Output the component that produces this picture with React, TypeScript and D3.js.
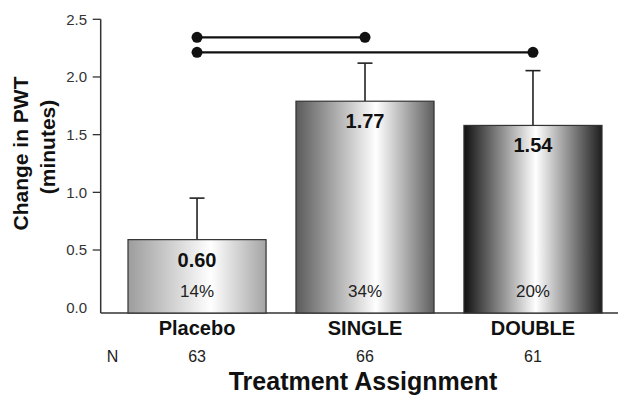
import React from "react";
import * as d3 from "d3";

const categories = ["Placebo", "SINGLE", "DOUBLE"];
const barValues = [0.59, 1.79, 1.58];
const valueLabels = ["0.60", "1.77", "1.54"];
const errorUpper = [0.95, 2.12, 2.055];
const percentLabels = ["14%", "34%", "20%"];
const nValues = ["63", "66", "61"];
const yTicks = [0.5, 1.0, 1.5, 2.0, 2.5];
const yTickLabels = ["0.0", "0.5", "1.0", "1.5", "2.0", "2.5"];
const sigPairs: [number, number, number][] = [
  [0, 1, 2.344],
  [0, 2, 2.214],
];
const gradients = [
  { left: "#9c9c9c", mid: "#ffffff", right: "#a4a4a4", midPos: "60%" },
  { left: "#5a5a5a", mid: "#ffffff", right: "#5e5e5e", midPos: "58%" },
  { left: "#111111", mid: "#ffffff", right: "#1e1e1e", midPos: "52%" },
];

const W = 618;
const H = 396;
const FONT = "Arial, 'Liberation Sans', Helvetica, sans-serif";

export default function App() {
  const y = d3.scaleLinear().domain([0, 2.5]).range([307.7, 19.3]);
  const x = d3.scaleBand<string>().domain(categories).range([128, 602]).paddingInner(0.178).paddingOuter(0);
  const axisX = 100.7;
  const baseY = 313;
  const bw = x.bandwidth();
  const cx = (c: string) => (x(c) as number) + bw / 2;

  return (
    <svg width={W} height={H} style={{ position: "absolute", left: 0, top: 0, background: "#fff" }} fontFamily={FONT}>
      <defs>
        {gradients.map((g, i) => (
          <linearGradient key={i} id={`grad${i}`} x1="0" x2="1" y1="0" y2="0">
            <stop offset="0%" stopColor={g.left} />
            <stop offset={g.midPos} stopColor={g.mid} />
            <stop offset="100%" stopColor={g.right} />
          </linearGradient>
        ))}
      </defs>
      <rect x={0} y={0} width={W} height={H} fill="#fff" />

      {/* axes */}
      <line x1={axisX} x2={axisX} y1={y(2.5)} y2={baseY} stroke="#333" strokeWidth={1.5} />
      <line x1={axisX} x2={W} y1={baseY} y2={baseY} stroke="#333" strokeWidth={1.5} />
      {yTicks.map((t) => (
        <line key={t} x1={axisX - 8} x2={axisX} y1={y(t)} y2={y(t)} stroke="#333" strokeWidth={1.3} />
      ))}
      {yTickLabels.map((l, i) => (
        <text key={l} x={87} y={y(i * 0.5)} dy="0.36em" textAnchor="end" fontSize={15} fill="#333">
          {l}
        </text>
      ))}

      {/* y label */}
      <text transform={`translate(28,153.5) rotate(-90)`} textAnchor="middle" fontSize={21} fontWeight="bold" fill="#111">
        Change in PWT
      </text>
      <text transform={`translate(55,147) rotate(-90)`} textAnchor="middle" fontSize={21} fontWeight="bold" fill="#111">
        (minutes)
      </text>

      {/* error bars */}
      {categories.map((c, i) => (
        <g key={`e${c}`} stroke="#222" strokeWidth={1.6}>
          <line x1={cx(c)} x2={cx(c)} y1={y(barValues[i])} y2={y(errorUpper[i])} />
          <line x1={cx(c) - 7.5} x2={cx(c) + 7.5} y1={y(errorUpper[i])} y2={y(errorUpper[i])} />
        </g>
      ))}

      {/* bars */}
      {categories.map((c, i) => (
        <rect
          key={c}
          x={x(c)}
          y={y(barValues[i])}
          width={bw}
          height={baseY - y(barValues[i])}
          fill={`url(#grad${i})`}
          stroke="#333"
          strokeWidth={1.2}
        />
      ))}

      {/* value labels */}
      {categories.map((c, i) => (
        <text key={`v${c}`} x={cx(c)} y={y(barValues[i]) + 27} textAnchor="middle" fontSize={20} fontWeight="bold" fill="#111">
          {valueLabels[i]}
        </text>
      ))}
      {categories.map((c, i) => (
        <text key={`p${c}`} x={cx(c)} y={297} textAnchor="middle" fontSize={17} fill="#222">
          {percentLabels[i]}
        </text>
      ))}

      {/* significance lines */}
      {sigPairs.map(([a, b, v], i) => (
        <g key={`s${i}`}>
          <line x1={cx(categories[a])} x2={cx(categories[b])} y1={y(v)} y2={y(v)} stroke="#111" strokeWidth={2.2} />
          <circle cx={cx(categories[a])} cy={y(v)} r={5.5} fill="#111" />
          <circle cx={cx(categories[b])} cy={y(v)} r={5.5} fill="#111" />
        </g>
      ))}

      {/* category labels */}
      {categories.map((c) => (
        <text key={`c${c}`} x={cx(c)} y={335} textAnchor="middle" fontSize={20} fontWeight="bold" fill="#111">
          {c}
        </text>
      ))}
      <text x={112.5} y={362} textAnchor="middle" fontSize={16} fill="#222">
        N
      </text>
      {categories.map((c, i) => (
        <text key={`n${c}`} x={cx(c)} y={362} textAnchor="middle" fontSize={16} fill="#222">
          {nValues[i]}
        </text>
      ))}

      <text x={363} y={390} textAnchor="middle" fontSize={25} fontWeight="bold" fill="#111">
        Treatment Assignment
      </text>
    </svg>
  );
}
